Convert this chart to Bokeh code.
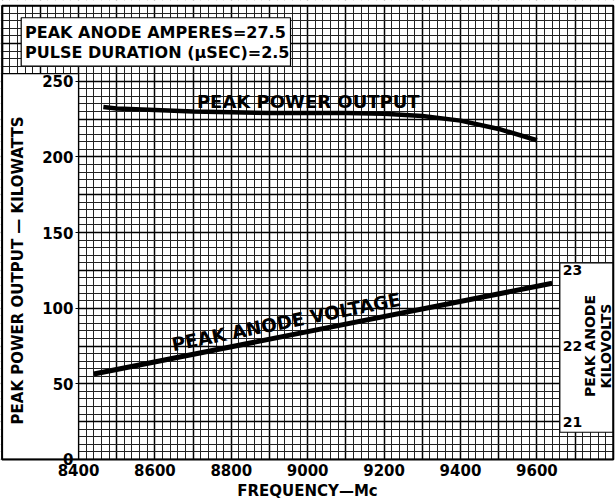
import numpy as np
from bokeh.plotting import figure
from bokeh.models import Range1d, LinearAxis, Grid, SingleIntervalTicker, FixedTicker
from bokeh.core.properties import value
from bokeh.embed import file_html
from bokeh.resources import INLINE

# ---- data ----
freq_power = [8465, 8500, 8600, 8700, 8800, 8900, 9000, 9100, 9200, 9300, 9400, 9500, 9600]
power_kw = [233, 232, 231, 230, 229.5, 229, 229, 229, 228.5, 227, 224, 218.5, 211]

freq_volt = [8440, 9000, 9640]
anode_kv = [21.63, 22.19, 22.83]

x_ticks = [8400, 8600, 8800, 9000, 9200, 9400, 9600]
y_ticks = [0, 50, 100, 150, 200, 250]
kv_ticks = [21, 22, 23]

title_lines = ["PEAK ANODE  AMPERES=27.5", "PULSE  DURATION (\u03bcSEC)=2.5"]

# alignment of the kilovolt scale with the kilowatt scale (21 kV at 25 kW, 1 kV per 50 kW)
KV_AT_ZERO_KW = 20.5
KW_PER_KV = 50.0

FONT = value("DejaVu Sans")

x0, x1 = 8195.8, 9808.4
y0, y1 = -25.8, 303.4

p = figure(width=616, height=498, x_range=Range1d(x0, x1), y_range=Range1d(y0, y1),
           x_axis_type=None, y_axis_type=None, output_backend="svg", toolbar_location=None,
           min_border=0, min_border_left=0, min_border_right=0, min_border_top=0, min_border_bottom=0,
           background_fill_color="white", border_fill_color="white")
p.outline_line_color = None
p.extra_y_ranges = {"kv": Range1d(KV_AT_ZERO_KW + y0 / KW_PER_KV, KV_AT_ZERO_KW + y1 / KW_PER_KV)}

# ---- graph paper ----
xgrid = Grid(dimension=0, ticker=SingleIntervalTicker(interval=100, num_minor_ticks=5),
             bounds=(8200, 9800), grid_line_color="#000000", grid_line_width=1.5,
             minor_grid_line_color="#222222", minor_grid_line_width=1)
ygrid = Grid(dimension=1, ticker=SingleIntervalTicker(interval=25, num_minor_ticks=5),
             bounds=(0, 300), grid_line_color="#000000", grid_line_width=1.5,
             minor_grid_line_color="#222222", minor_grid_line_width=1)
p.add_layout(xgrid)
p.add_layout(ygrid)

# white margins outside the paper
p.quad(left=[x0 - 10, x0 - 10, x0 - 10, 9800], right=[x1 + 10, x1 + 10, 8200, x1 + 10],
       bottom=[y0 - 10, 300, y0, y0], top=[0, y1 + 10, y1, y1],
       fill_color="white", line_color=None)

# white label boxes pasted on the paper
p.quad(left=[8200, 8250, 9660], right=[8400, 8955, 9800],
       bottom=[0, 260, 18], top=[255, 292, 130],
       fill_color="white", line_color="black", line_width=1.2)

# paper border
p.quad(left=[8200], right=[9800], bottom=[0], top=[300],
       fill_color=None, line_color="black", line_width=2)

# ---- data lines ----
p.line(freq_power, power_kw, line_color="black", line_width=4.5)
p.line(freq_volt, anode_kv, y_range_name="kv", line_color="black", line_width=5)

# ---- in-chart labels ----
p.text(x=[8260, 8260], y=[282, 269], text=title_lines, text_font=FONT, text_font_style="bold",
       text_font_size="16px", text_baseline="middle", text_align="left", text_color="black")
p.text(x=[8710], y=[236.5], text=["PEAK POWER OUTPUT"], text_font=FONT, text_font_style="bold",
       text_font_size="18px", text_baseline="middle", text_align="left", text_color="black")
p.text(x=[8650], y=[21.88], y_range_name="kv", text=["PEAK ANODE VOLTAGE"], text_font=FONT,
       text_font_style="bold", text_font_size="18.5px", text_baseline="bottom", text_align="left",
       angle=11.3, angle_units="deg", text_color="black")
p.text(x=[9760], y=[22.0], y_range_name="kv", text=["PEAK ANODE\nKILOVOLTS"], text_font=FONT,
       text_font_style="bold", text_font_size="14px", text_baseline="middle", text_align="center",
       angle=90, angle_units="deg", text_line_height=0.95, text_color="black")


def style_axis(ax):
    ax.axis_line_color = None
    ax.major_tick_line_color = "black"
    ax.major_tick_out = 3
    ax.major_tick_in = 0
    ax.minor_tick_line_color = None
    ax.major_label_text_font = "DejaVu Sans"
    ax.major_label_text_font_style = "bold"
    ax.major_label_text_font_size = "15px"
    ax.major_label_text_color = "black"
    ax.major_label_standoff = 2
    ax.axis_label_text_font = "DejaVu Sans"
    ax.axis_label_text_font_style = "bold"
    ax.axis_label_text_font_size = "15px"
    ax.axis_label_text_color = "black"


yax = LinearAxis(ticker=FixedTicker(ticks=y_ticks), fixed_location=8400, bounds=(0, 250),
                 axis_label="PEAK POWER OUTPUT \u2014 KILOWATTS")
style_axis(yax)
yax.axis_label_standoff = 12
p.add_layout(yax, "left")

xax = LinearAxis(ticker=FixedTicker(ticks=x_ticks), fixed_location=0, bounds=(8400, 9600),
                 axis_label="FREQUENCY\u2014Mc")
style_axis(xax)
xax.major_tick_out = 0
xax.major_label_standoff = 5
xax.axis_label_standoff = 2
p.add_layout(xax, "below")

kax = LinearAxis(ticker=FixedTicker(ticks=kv_ticks), fixed_location=9660, bounds=(21, 23),
                 y_range_name="kv")
style_axis(kax)
kax.major_tick_out = 0
kax.major_label_standoff = 3
kax.major_label_text_font_size = "14px"
p.add_layout(kax, "right")

open("out.html", "w").write(file_html(p, INLINE))
